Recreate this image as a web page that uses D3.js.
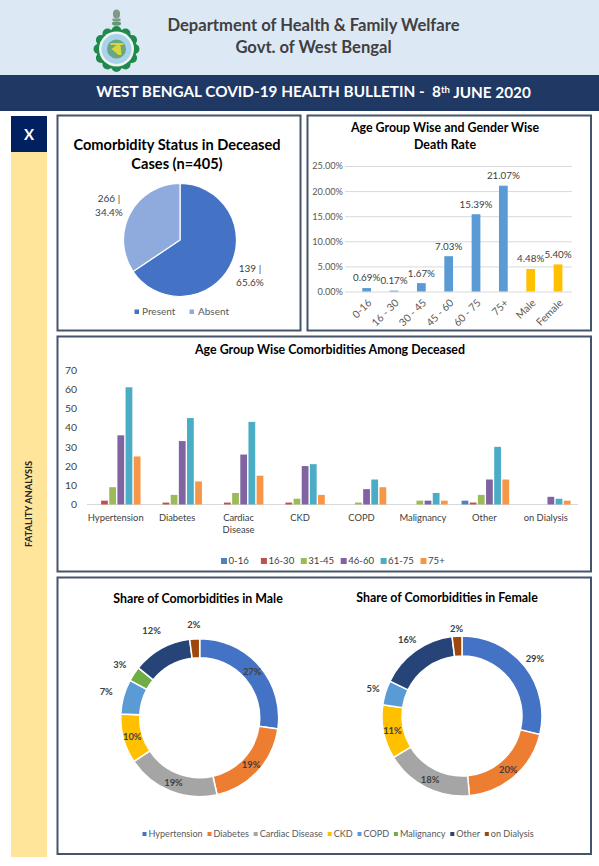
<!DOCTYPE html>
<html><head><meta charset="utf-8">
<style>html,body{margin:0;padding:0;background:#fff;overflow:hidden}svg{display:block}text{font-family:Lato,"Open Sans",sans-serif;white-space:pre}</style>
<script src="https://cdn.jsdelivr.net/npm/d3@7"></script>
</head><body>
<script>
const statusCategories = ["Present","Absent"];
const statusCounts = [139,266];
const statusPercents = [65.6,34.4];
const rateCategories = ["0-16","16 - 30","30 - 45","45 - 60","60 - 75","75+","Male","Female"];
const rateValues = [0.69,0.17,1.67,7.03,15.39,21.07,4.48,5.40];
const rateTicks = [0,5,10,15,20,25];
const comorbidities = ["Hypertension","Diabetes","Cardiac Disease","CKD","COPD","Malignancy","Other","on Dialysis"];
const ageGroups = ["0-16","16-30","31-45","46-60","61-75","75+"];
const age0to16 = [0,0,0,0,0,0,2,0];
const age16to30 = [2,1,1,1,0,0,1,0];
const age31to45 = [9,5,6,3,1,2,5,0];
const age46to60 = [36,33,26,20,8,2,13,4];
const age61to75 = [61,45,43,21,13,6,30,3];
const age75plus = [25,12,15,5,9,2,13,2];
const countTicks = [0,10,20,30,40,50,60,70];
const maleShare = [27,19,19,10,7,3,12,2];
const femaleShare = [29,20,18,11,5,0,16,2];

const svg = d3.select("body").append("svg").attr("width",599).attr("height",866);
const txt = (x,y,s,size,fill,weight,anchor) => svg.append("text").attr("x",x).attr("y",y).attr("dy","0.35em")
  .attr("text-anchor",anchor||"middle").attr("font-size",size).attr("fill",fill).attr("font-weight",weight||400).text(s);

// header
svg.append("rect").attr("width",599).attr("height",75).attr("fill","#dde8f5");
svg.append("rect").attr("y",75).attr("width",599).attr("height",36).attr("fill","#1f3864");
txt(313.5,25,"Department of Health & Family Welfare",16.6,"#404040",700);
txt(313.5,47,"Govt. of West Bengal",16.6,"#404040",700);
const band = svg.append("text").attr("x",313.5).attr("y",92).attr("dy","0.35em").attr("text-anchor","middle")
  .attr("font-size",15.3).attr("font-weight",700).attr("fill","#fff");
band.append("tspan").text("WEST BENGAL COVID-19 HEALTH BULLETIN -  8");
band.append("tspan").attr("font-size",9.5).attr("dy","-0.45em").text("th");
band.append("tspan").attr("dy","0.3em").text(" JUNE 2020");

// logo
const logo = svg.append("g").attr("transform","translate(116.5,49)");
const scallop = d3.range(12).map(i=>i*Math.PI/6);
logo.selectAll("circle.s").data(scallop).join("circle").attr("cx",d=>18*Math.sin(d)).attr("cy",d=>-18*Math.cos(d)).attr("r",5).attr("fill","#1f8a4c");
logo.append("circle").attr("r",20).attr("fill","#1f8a4c");
logo.append("circle").attr("r",17.5).attr("fill","#eef5f1");
logo.append("circle").attr("r",15).attr("fill","#a9d3ea");
logo.append("circle").attr("r",9.5).attr("fill","#6aa584");
logo.append("path").attr("d","M-6,-6H7V-4H4L5,6H2L-5,0L0,-4H-6Z").attr("fill","#d8d63a");
const emblem = svg.append("g").attr("transform","translate(116.5,17)").attr("fill","#7f9a86");
emblem.append("ellipse").attr("cy",-3).attr("rx",3.6).attr("ry",4.5);
emblem.append("rect").attr("x",-4).attr("y",1.5).attr("width",8).attr("height",2.5);
emblem.append("ellipse").attr("cy",6.5).attr("rx",4.5).attr("ry",2.2).attr("fill","#5e9a78");

// side
svg.append("rect").attr("x",11).attr("y",116).attr("width",36).attr("height",36).attr("fill","#002060");
txt(29,135,"X",15,"#fff",700);
svg.append("rect").attr("x",11).attr("y",152).attr("width",36).attr("height",705).attr("fill","#ffe599");
svg.append("text").attr("transform","translate(29,504) rotate(-90)").attr("dy","0.35em").attr("text-anchor","middle")
  .attr("font-size",9.4).attr("font-weight",700).attr("fill","#262626").text("FATALITY ANALYSIS");

// panels
[[57.5,115.5,243,215],[307.5,115.5,283.5,215],[57.5,336.5,533.5,235],[57.5,577.5,533.5,276.5]].forEach(p=>
  svg.append("rect").attr("x",p[0]).attr("y",p[1]).attr("width",p[2]).attr("height",p[3]).attr("fill","#fff").attr("stroke","#44546a").attr("stroke-width",2));

// pie
const pieG = svg.append("g").attr("transform","translate(180,240)");
const statusColor = d3.scaleOrdinal(statusCategories,["#4472c4","#8faadc"]);
pieG.selectAll("path").data(d3.pie().sort(null)(statusPercents)).join("path")
  .attr("d",d3.arc().innerRadius(0).outerRadius(56.5)).attr("fill",(d,i)=>statusColor(statusCategories[i])).attr("stroke","#fff").attr("stroke-width",1.2);
txt(177,145,"Comorbidity Status in Deceased",14.6,"#000",700);
txt(177,164,"Cases (n=405)",14.6,"#000",700);
[[109,198,1],[250,268,0]].forEach(([x,y,i])=>{
  txt(x,y,statusCounts[i]+" |",10,"#404040");
  txt(x,y+14,statusPercents[i].toFixed(1)+"%",10,"#404040");
});
[[137,142],[192,198]].forEach(([m,t],i)=>{
  svg.append("rect").attr("x",m-2.5).attr("y",309.5).attr("width",4.5).attr("height",4.5).attr("fill",statusColor(statusCategories[i]));
  txt(t,311.5,statusCategories[i],10,"#595959",400,"start");
});

// death-rate bars
const rx = d3.scaleBand(rateCategories,[353,571.7]).paddingInner(0.68).paddingOuter(0.34);
const ry = d3.scaleLinear([0,25],[291.5,166]);
txt(445,128,"Age Group Wise and Gender Wise",12.4,"#000",700);
txt(445,145,"Death Rate",12.4,"#000",700);
const rAxis = svg.append("g").attr("transform","translate(345,0)")
  .call(d3.axisLeft(ry).tickValues(rateTicks).tickFormat(d=>d.toFixed(2)+"%").tickSize(-227).tickPadding(2));
rAxis.select(".domain").remove();
rAxis.selectAll("line").attr("stroke","#d9d9d9");
rAxis.selectAll("text").attr("font-size",9.2).attr("fill","#595959").style("font-family","Lato");
svg.selectAll("rect.rate").data(rateValues).join("rect").attr("class","rate")
  .attr("x",(d,i)=>rx(rateCategories[i])).attr("width",rx.bandwidth())
  .attr("y",d=>ry(d)).attr("height",d=>ry(0)-ry(d)).attr("fill",(d,i)=>i>=6?"#ffc000":"#5b9bd5");
rateValues.forEach((v,i)=>txt(rx(rateCategories[i])+rx.bandwidth()/2,ry(v)-10,v.toFixed(2)+"%",9.8,"#404040"));
rateCategories.forEach((c,i)=>svg.append("text").attr("text-anchor","end").attr("font-size",10.4).attr("fill","#595959")
  .attr("transform",`translate(${rx(c)+rx.bandwidth()/2+3},${301}) rotate(-45)`).attr("dy","0.35em").text(c));

// grouped bars
const ageSeries = [age0to16,age16to30,age31to45,age46to60,age61to75,age75plus];
const ageColor = d3.scaleOrdinal(ageGroups,["#4f81bd","#c0504d","#9bbb59","#8064a2","#4bacc6","#f79646"]);
const gx = d3.scaleBand(comorbidities,[86,577.5]);
const gi = d3.scaleBand(ageGroups,[0,gx.bandwidth()]).paddingInner(0.17).paddingOuter(0.85);
const gy = d3.scaleLinear([0,70],[504.5,370]);
txt(330,350,"Age Group Wise Comorbidities Among Deceased",12.4,"#000",700);
const gAxis = svg.append("g").attr("transform","translate(87,0)").call(d3.axisLeft(gy).tickValues(countTicks).tickSize(0).tickPadding(10));
gAxis.select(".domain").remove();
gAxis.selectAll("text").attr("font-size",10.4).attr("fill","#404040").style("font-family","Lato");
svg.append("line").attr("x1",87).attr("x2",578).attr("y1",504.5).attr("y2",504.5).attr("stroke","#d9d9d9");
ageSeries.forEach((vals,s)=>{
  svg.selectAll("rect.s"+s).data(vals).join("rect").attr("class","s"+s)
    .attr("x",(d,i)=>gx(comorbidities[i])+gi(ageGroups[s])).attr("width",gi.bandwidth())
    .attr("y",d=>gy(d)).attr("height",d=>gy(0)-gy(d)).attr("fill",ageColor(ageGroups[s]));
});
comorbidities.forEach(c=>{
  const cx = gx(c)+gx.bandwidth()/2-1;
  if(c==="Cardiac Disease"){ txt(cx,518,"Cardiac",9.4,"#404040"); txt(cx,530,"Disease",9.4,"#404040"); }
  else txt(cx,518,c,9.4,"#404040");
});
ageGroups.forEach((a,i)=>{
  const x = 221+i*39.9;
  svg.append("rect").attr("x",x).attr("y",558).attr("width",6).attr("height",6).attr("fill",ageColor(a));
  txt(x+7.5,561,a,9.6,"#404040",400,"start");
});

// donuts
const shareColor = d3.scaleOrdinal(comorbidities,["#4472c4","#ed7d31","#a5a5a5","#ffc000","#5b9bd5","#70ad47","#264478","#9e480e"]);
const maleLabelRadius = [69.5,70,70.5,70,97,96,99,93];
const femaleLabelRadius = [93,70.5,71,71,93,0,94,87];
function donut(cx,cy,outer,inner,vals,radii){
  const g = svg.append("g").attr("transform",`translate(${cx},${cy})`);
  const arcs = d3.pie().sort(null)(vals);
  const arc = d3.arc().innerRadius(inner).outerRadius(outer);
  g.selectAll("path").data(arcs).join("path").attr("d",arc).attr("fill",(d,i)=>shareColor(comorbidities[i])).attr("stroke","#fff").attr("stroke-width",1.5);
  arcs.forEach((a,i)=>{
    if(!vals[i]) return;
    const t=(a.startAngle+a.endAngle)/2;
    g.append("text").attr("x",radii[i]*Math.sin(t)).attr("y",-radii[i]*Math.cos(t)).attr("dy","0.35em").attr("text-anchor","middle")
      .attr("font-size",9.4).attr("font-weight",700).attr("fill","#404040").text(vals[i]+"%");
  });
}
txt(198,599,"Share of Comorbidities in Male",12.4,"#000",700);
txt(447,598,"Share of Comorbidities in Female",12.4,"#000",700);
donut(199.7,717.7,79,60,maleShare,maleLabelRadius);
donut(462,716,80,60,femaleShare,femaleLabelRadius);
let lx = 142.5;
comorbidities.forEach(c=>{
  svg.append("rect").attr("x",lx).attr("y",832).attr("width",4).attr("height",4).attr("fill",shareColor(c));
  const t = txt(lx+6,834,c,9.1,"#595959",400,"start");
  lx += 6 + t.node().getComputedTextLength() + 4.8;
});
</script>
</body></html>
